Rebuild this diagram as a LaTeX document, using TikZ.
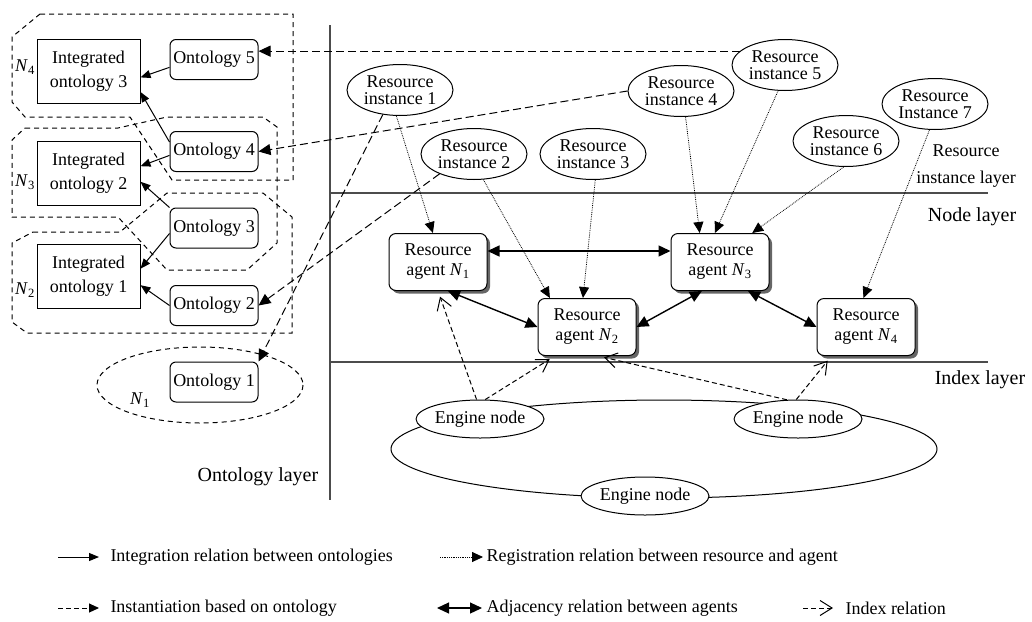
\documentclass[tikz,border=0pt]{standalone}
\usepackage{fontspec}
\setmainfont{Liberation Serif}
\usepackage{tikz}
\usetikzlibrary{arrows.meta,shapes.geometric,shadows}

\begin{document}
\begin{tikzpicture}[x=1pt,y=-1pt,line width=1pt,font=\fontsize{18}{22}\selectfont]
\tikzstyle{every node}+=[inner sep=0pt]
\tikzstyle{integbox}=[draw,minimum width=103pt,minimum height=64pt,align=center,font=\fontsize{18}{24}\selectfont]
\tikzstyle{ontbox}=[draw,rounded corners=6pt,minimum width=88pt,minimum height=40pt]
\tikzstyle{agentbox}=[draw,fill=white,rounded corners=7pt,minimum width=98pt,minimum height=57pt,align=center,font=\fontsize{18}{20}\selectfont,drop shadow={shadow xshift=3pt,shadow yshift=-3pt,fill=black!60,opacity=1}]
\tikzstyle{resinst}=[draw,ellipse,fill=white,minimum width=106pt,minimum height=51pt,align=center,font=\fontsize{18}{17}\selectfont]
\tikzstyle{engine}=[draw,ellipse,fill=white,minimum width=124pt,minimum height=38pt]
\tikzstyle{group}=[dash pattern=on 5pt off 4pt]
\tikzstyle{layerline}=[black!70,line width=1.3pt]
\tikzstyle{layerlbl}=[font=\fontsize{20}{24}\selectfont]
\tikzstyle{integ}=[-{Triangle[length=10pt,width=8pt]}]
\tikzstyle{regis}=[densely dotted,line width=0.8pt,-{Triangle[length=11pt,width=10pt]}]
\tikzstyle{inst}=[dash pattern=on 8pt off 4pt,-{Triangle[length=12pt,width=11pt]}]
\tikzstyle{adj}=[line width=1.4pt,{Triangle[length=12pt,width=11pt]}-{Triangle[length=12pt,width=11pt]}]
\tikzstyle{index}=[dash pattern=on 5pt off 3pt,-{Straight Barb[length=12pt,width=15pt]}]
\tikzstyle{legend}=[anchor=west]
\useasboundingbox (0,0) rectangle (1032,621);

\draw[group] (40,14) -- (293,14) -- (293,180) -- (172,180) -- (130,117) -- (25,117) -- (12,102) -- (12,37) -- cycle;
\draw[group] (25,128) -- (118,128) -- (167,117) -- (263,117) -- (277,127) -- (277,243) -- (247,270) -- (167,270) -- (118,217) -- (12,217) -- (12,140) -- cycle;
\draw[group] (33,232) -- (120,232) -- (167,193) -- (263,193) -- (292,217) -- (292,333) -- (27,333) -- (12,322) -- (12,243) -- cycle;
\draw[group] (200,385) ellipse [x radius=103, y radius=38];
\node (n4) at (25,67) {\textit{N}\textsubscript{4}};
\node (n3) at (25,182) {\textit{N}\textsubscript{3}};
\node (n2) at (25,290) {\textit{N}\textsubscript{2}};
\node (n1) at (140,400) {\textit{N}\textsubscript{1}};

\node[integbox] (io3) at (88.5,71) {Integrated\\ontology 3};
\node[integbox] (io2) at (88.5,173.5) {Integrated\\ontology 2};
\node[integbox] (io1) at (88.5,276) {Integrated\\ontology 1};
\node[ontbox] (ont5) at (214,59.5) {Ontology 5};
\node[ontbox] (ont4) at (214,151.5) {Ontology 4};
\node[ontbox] (ont3) at (214,228) {Ontology 3};
\node[ontbox] (ont2) at (214,305.5) {Ontology 2};
\node[ontbox] (ont1) at (214,382) {Ontology 1};

\draw[integ] (ont5.190) -- (io3.353);
\draw[integ] (ont4.168) -- (io3.338);
\draw[integ] (ont4.185) -- (io2.8);
\draw[integ] (ont3.north west) -- (io2.351);
\draw[integ] (ont3.187) -- (io1.8);
\draw[integ] (ont2.west) -- (io1.350);

\draw[layerline] (330,25) -- (330,500);
\draw[layerline] (330,193) -- (988,193);
\draw[layerline] (330,362) -- (988,362);
\node[align=center,font=\fontsize{18}{27}\selectfont] (lblres) at (966,166) {Resource\\instance layer};
\node[layerlbl] (lblnode) at (972,217) {Node layer};
\node[layerlbl] (lblindex) at (980,380) {Index layer};
\node[layerlbl] (lblont) at (258,477) {Ontology layer};

\node[resinst] (ri1) at (400,90) {Resource\\instance 1};
\node[resinst] (ri2) at (474,154) {Resource\\instance 2};
\node[resinst] (ri3) at (593,154) {Resource\\instance 3};
\node[resinst] (ri4) at (681,91) {Resource\\instance 4};
\node[resinst] (ri5) at (785,65) {Resource\\instance 5};
\node[resinst] (ri6) at (846,141) {Resource\\instance 6};
\node[resinst] (ri7) at (935,104) {Resource\\Instance 7};

\node[agentbox] (ag1) at (438,262) {Resource\\agent \textit{N}\textsubscript{1}};
\node[agentbox] (ag2) at (587,327) {Resource\\agent \textit{N}\textsubscript{2}};
\node[agentbox] (ag3) at (720,262) {Resource\\agent \textit{N}\textsubscript{3}};
\node[agentbox] (ag4) at (866,327) {Resource\\agent \textit{N}\textsubscript{4}};

\draw (664,449) ellipse [x radius=273, y radius=49];
\node[engine] (en1) at (480,419) {Engine node};
\node[engine] (en2) at (798,419) {Engine node};
\node[engine] (en3) at (645,496) {Engine node};

\draw[inst] (ri5.163) -- (ri5.163 -| ont5.east);
\draw[inst] (ri4.west) -- (ont4.east);
\draw[inst] (ri2.210) -- (ont2.east);
\draw[inst] (ri1.235) -- (ont1.north east);

\draw[regis] (ri1.262) -- (ag1.100);
\draw[regis] (ri2.290) -- (ag2.142);
\draw[regis] (ri3.275) -- (ag2.98);
\draw[regis] (ri4.280) -- (ag3.125);
\draw[regis] (ri5.255) -- (ag3.100);
\draw[regis] (ri6.265) -- (ag3.42);
\draw[regis] (ri7.258) -- (ag4.95);

\draw[adj] ([yshift=11pt]ag1.east) -- ([yshift=11pt]ag3.west);
\draw[adj] (ag1.289) -- (ag2.west);
\draw[adj] (ag2.east) -- (ag3.238);
\draw[adj] (ag3.314) -- (ag4.west);

\draw[index,shorten >=6pt] (en1.100) -- (ag1.south);
\draw[index,shorten >=6pt] (en1.75) -- (ag2.222);
\draw[index,shorten >=6pt] (en2.120) -- (ag2.291);
\draw[index,shorten >=6pt] (en2.95) -- (ag4.220);

\coordinate (k1) at (58,557);
\coordinate (k2) at (440,557);
\coordinate (k3) at (58,608);
\coordinate (k4) at (437,608);
\coordinate (k5) at (803,608);
\node[legend] (t1) at (110,557) {Integration relation between ontologies};
\node[legend] (t2) at (486,557) {Registration relation between resource and agent};
\node[legend] (t3) at (110,608) {Instantiation based on ontology};
\node[legend] (t4) at (486,608) {Adjacency relation between agents};
\node[legend] (t5) at (845,608) {Index relation};
\draw[integ] (k1) -- ++(41,0);
\draw[regis] (k2) -- ++(43,0);
\draw[dash pattern=on 5pt off 3pt,-{Triangle[length=10pt,width=9pt]}] (k3) -- ++(41,0);
\draw[adj,line width=1.2pt] (k4) -- ++(45,0);
\draw[index] (k5) -- ++(30,0);
\end{tikzpicture}
\end{document}
